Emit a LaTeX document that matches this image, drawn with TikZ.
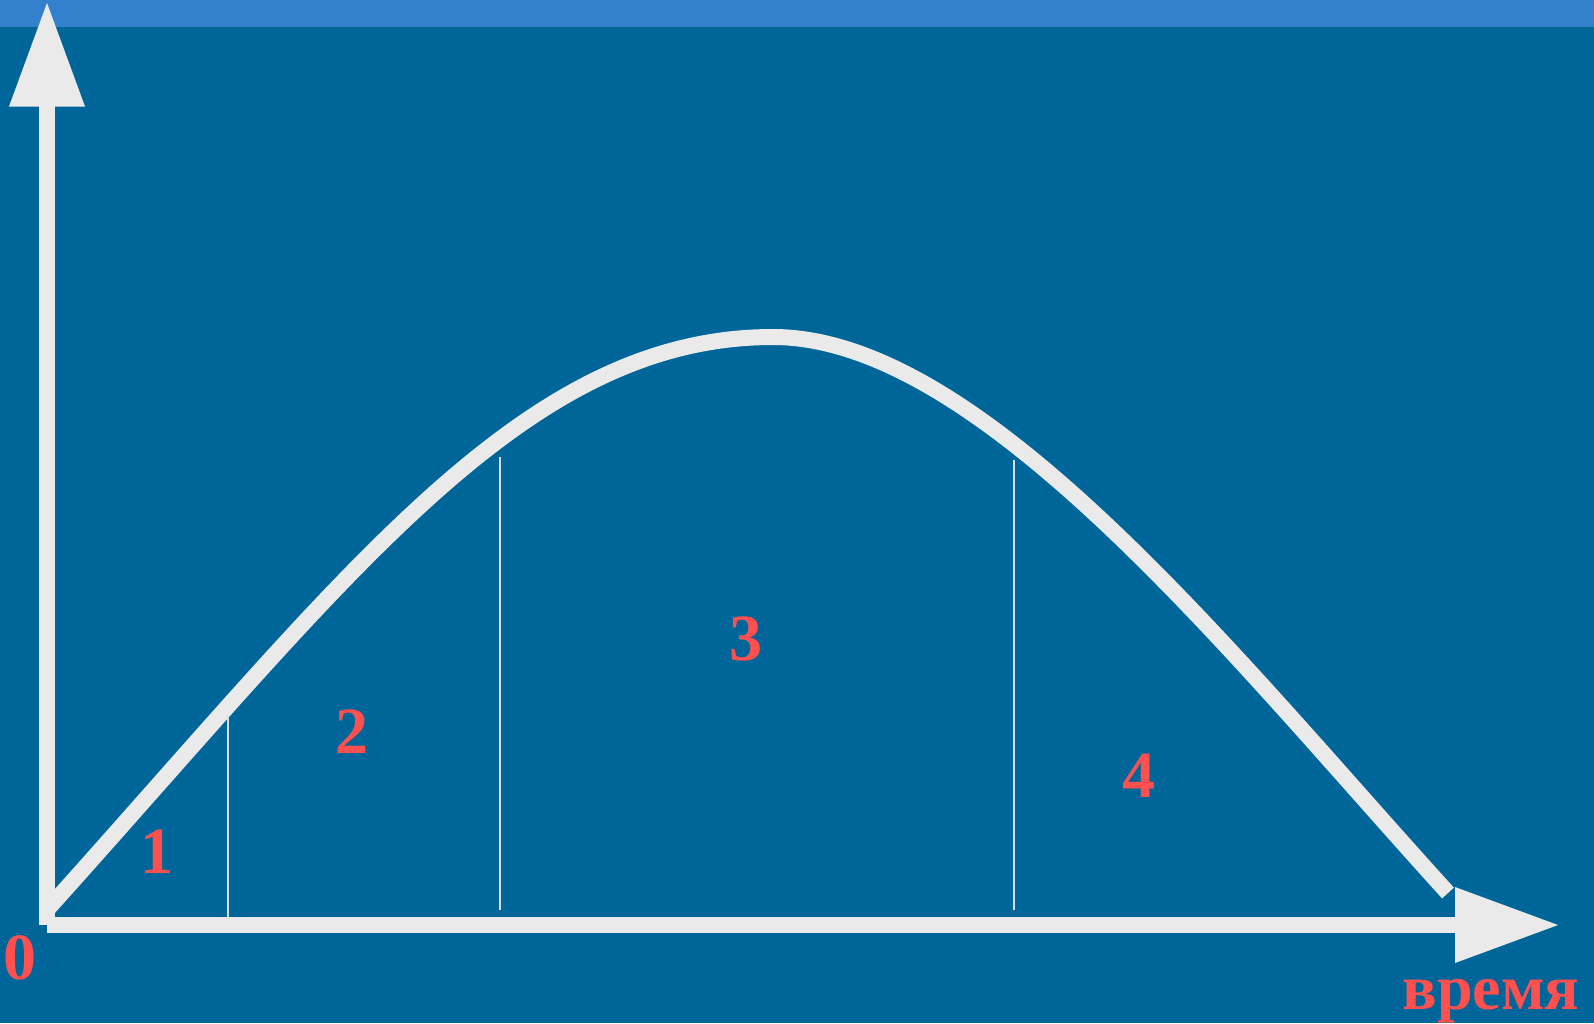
\documentclass[tikz,border=0pt]{standalone}
\usepackage{fontspec}
\setmainfont{Liberation Serif}
\definecolor{bgcol}{HTML}{006699}
\definecolor{bandcol}{HTML}{3380CC}
\definecolor{axiscol}{HTML}{EAEAEA}
\definecolor{gridcol}{HTML}{D8DDE2}
\definecolor{lblcol}{HTML}{FF5050}
\begin{document}
\begin{tikzpicture}[x=1pt,y=-1pt,
  lbl/.style={text=lblcol, font=\bfseries\fontsize{66}{70}\selectfont, inner sep=0pt, anchor=base},
  axisline/.style={draw=axiscol, line width=16pt},
  curveline/.style={draw=axiscol, line width=16pt},
  divline/.style={draw=gridcol, line width=1.6pt}]
\useasboundingbox (0,0) rectangle (1594,1023);
\fill[bgcol] (0,0) rectangle (1594,1023);
\fill[bandcol] (0,0) rectangle (1594,27);
% curve
\draw[curveline] (45,912) .. controls (350,573) and (523,337) .. (773,337)
  .. controls (983,337) and (1236,660) .. (1448,893);
% dividing lines
\coordinate (d1t) at (228,715); \coordinate (d1b) at (228,917);
\coordinate (d2t) at (500,457); \coordinate (d2b) at (500,910);
\coordinate (d3t) at (1014,460); \coordinate (d3b) at (1014,910);
\draw[divline] (d1t) -- (d1b);
\draw[divline] (d2t) -- (d2b);
\draw[divline] (d3t) -- (d3b);
% axes
\coordinate (o) at (47,925);
\coordinate (ytop) at (47,106);
\coordinate (xend) at (1455,925);
\draw[axisline] (o) -- (ytop);
\draw[axisline] (o) -- (xend);
\fill[axiscol] (47,3) -- (9,106.5) -- (85,106.5) -- cycle;
\fill[axiscol] (1558,925) -- (1455,887) -- (1455,963) -- cycle;
% labels
\node[lbl] (l0) at (20,979) {0};
\node[lbl] (l1) at (156.5,873) {1};
\node[lbl] (l2) at (352,753) {2};
\node[lbl] (l3) at (745.5,660) {3};
\node[lbl] (l4) at (1138.5,797) {4};
\node[lbl, font=\bfseries\fontsize{64}{70}\selectfont] (time) at (1491,1009) {время};
\end{tikzpicture}
\end{document}
